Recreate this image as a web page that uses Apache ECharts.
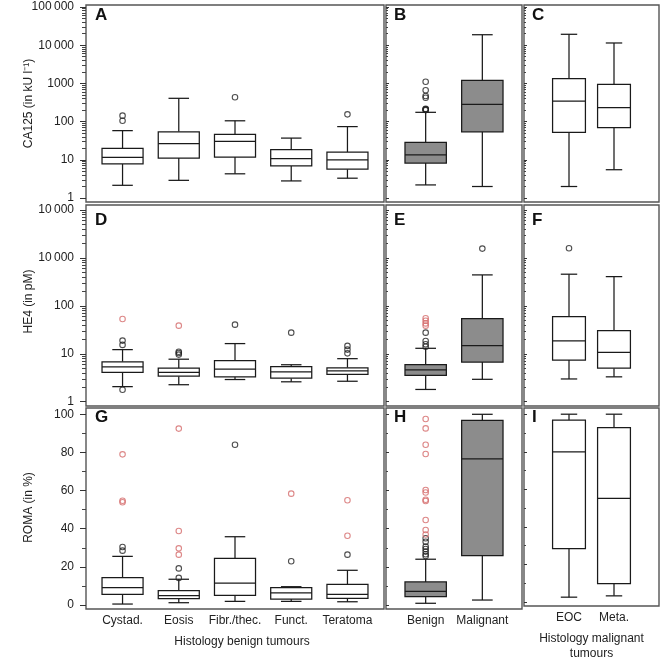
<!DOCTYPE html>
<html><head><meta charset="utf-8">
<script src="https://cdn.jsdelivr.net/npm/echarts@6/dist/echarts.min.js"></script>
<style>html,body{margin:0;padding:0;background:#fff}#c{width:661px;height:662px}</style>
</head><body><div id="c"></div>
<script>
// ---------- categories ----------
const benignCats = ['Cystad.', 'Eosis', 'Fibr./thec.', 'Funct.', 'Teratoma'];
const groupCats = ['Benign', 'Malignant'];
const malignantCats = ['EOC', 'Meta.'];
const panelLetters = ['A', 'B', 'C', 'D', 'E', 'F', 'G', 'H', 'I'];

// ---------- tick labels ----------
const ca125TickValues = [1, 10, 100, 1000, 10000, 100000];
const ca125TickLabels = ['1', '10', '100', '1000', '10\u2009000', '100\u2009000'];
const he4TickValues = [1, 10, 100, 1000, 10000];
const he4TickLabels = ['1', '10', '100', '10\u2009000', '10\u2009000'];
const romaTickValues = [0, 20, 40, 60, 80, 100];
const romaTickLabels = ['0', '20', '40', '60', '80', '100'];
const romaMinorValues = [10, 30, 50, 70, 90];

// ---------- box statistics: [lower whisker, Q1, median, Q3, upper whisker] ----------
const ca125Benign = [[2.15, 7.8, 11.6, 20, 58], [2.9, 11.1, 26.5, 54, 407], [4.3, 11.8, 30.5, 46, 105], [2.8, 6.9, 10.7, 18.4, 37], [3.3, 5.7, 10, 16, 74]];
const ca125BenignOut = [[143, 105], [], [433], [], [155]];
const ca125Group = [[2.2, 8.2, 13.4, 28.7, 175], [2.0, 54, 283, 1200, 18800]];
const ca125GroupOut = [[1108, 660, 470, 420, 215, 210, 205, 200], []];
const ca125Malig = [[2.0, 52.5, 346, 1327, 19300], [5.5, 69.5, 231, 947, 11430]];
const ca125MaligOut = [[], []];

const he4Benign = [[2.06, 4.1, 5.3, 6.8, 12.2], [2.26, 3.4, 4.1, 5.0, 7.7], [2.9, 3.3, 4.8, 7.2, 16.3], [2.6, 3.1, 4.2, 5.4, 5.9], [2.67, 3.7, 4.4, 5.1, 7.9]];
const he4BenignOut = [[18.8, 15.3, 1.78], [11, 10.4, 9.6], [40.5], [27.6], [14.6, 12.2, 10.2]];
const he4BenignRed = [[53], [38.6], [], [], []];
const he4Group = [[1.8, 3.56, 4.6, 5.9, 13], [2.93, 6.7, 14.8, 54, 442]];
const he4GroupOut = [[27.6, 18.5, 15.8, 14], [1563]];
const he4GroupRed = [[55, 49, 43, 38.6], []];
const he4Malig = [[2.98, 7.4, 18.5, 59.5, 457], [3.3, 5.0, 10.7, 30.3, 407]];
const he4MaligOut = [[1590], []];

const romaBenign = [[0.5, 5.6, 9.1, 14.3, 25.5], [1.2, 3.3, 4.9, 7.5, 13.5], [1.9, 5.1, 11.5, 24.5, 35.8], [1.9, 3.1, 6.3, 9.1, 9.6], [1.7, 3.5, 5.6, 10.8, 18.2]];
const romaBenignOut = [[30.4, 28.5], [19.2, 14.2], [84], [22.9], [26.4]];
const romaBenignRed = [[79, 54.7, 53.9], [92.5, 38.8, 29.7, 26.4], [], [58.4], [54.9, 36.3]];
const romaGroup = [[0.9, 4.4, 7.2, 12.1, 24], [2.6, 25.9, 76.6, 96.8, 100]];
const romaGroupOut = [[35, 33.2, 30.6, 29.4, 28, 26.6, 25.7], []];
const romaGroupRed = [[97.5, 92.6, 84, 79.2, 60.3, 59, 55.2, 54.5, 44.6, 39.3, 37], []];
const romaMalig = [[2.6, 28.5, 79.9, 96.8, 100], [3.3, 9.8, 55.2, 92.8, 100]];

// ---------- layout ----------
const FONT = "'Liberation Sans', Arial, Helvetica, sans-serif";
const TEXT = '#222';
const FRAME = '#555';
const OUT_BLACK = '#222';
const OUT_RED = '#d46a6a';

function logMinorTicks(maxV) {
  const out = [];
  for (let d = 1; d < maxV; d *= 10) for (let k = 2; k <= 9; k++) if (k * d <= maxV) out.push(k * d);
  return out;
}

const cols = [
  { left: 86, width: 298, min: 0.35, max: 5.65, cats: benignCats, fill: '#ffffff', outside: true, letterLeft: 95 },
  { left: 386, width: 136, min: 0.3, max: 2.7, cats: groupCats, fill: '#8c8c8c', outside: false, letterLeft: 394 },
  { left: 524, width: 135, min: 0, max: 3, cats: malignantCats, fill: '#ffffff', outside: false, letterLeft: 532 }
];
const rows = [
  { top: 5, height: 197, type: 'log', min: 0.786, max: 112800, ticks: ca125TickValues, labels: ca125TickLabels,
    minor: logMinorTicks(100000), name: 'CA125 (in kU l\u207B\u00B9)', namePad: 0, letterTop: 7,
    stats: [ca125Benign, ca125Group, ca125Malig], out: [ca125BenignOut, ca125GroupOut, ca125MaligOut], red: [null, null, null] },
  { top: 205, height: 201, type: 'log', min: 0.813, max: 12700, ticks: he4TickValues, labels: he4TickLabels,
    minor: logMinorTicks(10000), name: 'HE4 (in pM)', namePad: [0, 0, 0, 8], letterTop: 212,
    stats: [he4Benign, he4Group, he4Malig], out: [he4BenignOut, he4GroupOut, he4MaligOut], red: [he4BenignRed, he4GroupRed, null] },
  { top: 408, height: 201, type: 'value', min: -2.1, max: 103.3, ticks: romaTickValues, labels: romaTickLabels,
    minor: romaMinorValues, name: 'ROMA (in %)', namePad: [0, 0, 0, 2], letterTop: 409,
    stats: [romaBenign, romaGroup, romaMalig], out: [romaBenignOut, romaGroupOut, null], red: [romaBenignRed, romaGroupRed, null] }
];
const xNames = ['Histology benign tumours', '', 'Histology malignant\ntumours'];

function labelFor(row, v) {
  let best = 0, bd = Infinity;
  row.ticks.forEach((t, i) => {
    const d = row.type === 'log' ? Math.abs(Math.log10(v) - Math.log10(t)) : Math.abs(v - t);
    if (d < bd) { bd = d; best = i; }
  });
  return row.labels[best];
}

function boxRenderer(fill) {
  return function (params, api) {
    const x = api.value(0);
    const lo = api.coord([x, api.value(1)]);
    const q1 = api.coord([x, api.value(2)]);
    const md = api.coord([x, api.value(3)]);
    const q3 = api.coord([x, api.value(4)]);
    const hi = api.coord([x, api.value(5)]);
    const unit = api.coord([x + 1, api.value(3)])[0] - md[0];
    const hw = unit * 0.365;
    const cw = hw * 0.5;
    const cx = md[0];
    const ls = { stroke: '#1a1a1a', lineWidth: 1.25 };
    return {
      type: 'group',
      children: [
        { type: 'line', shape: { x1: cx, y1: q3[1], x2: cx, y2: hi[1] }, style: ls },
        { type: 'line', shape: { x1: cx, y1: q1[1], x2: cx, y2: lo[1] }, style: ls },
        { type: 'line', shape: { x1: cx - cw, y1: hi[1], x2: cx + cw, y2: hi[1] }, style: ls },
        { type: 'line', shape: { x1: cx - cw, y1: lo[1], x2: cx + cw, y2: lo[1] }, style: ls },
        { type: 'rect', shape: { x: cx - hw, y: q3[1], width: 2 * hw, height: q1[1] - q3[1] },
          style: { fill: fill, stroke: '#1a1a1a', lineWidth: 1.25 } },
        { type: 'line', shape: { x1: cx - hw, y1: md[1], x2: cx + hw, y2: md[1] }, style: ls }
      ]
    };
  };
}

const grid = [], xAxis = [], yAxis = [], series = [], title = [];
rows.forEach((row, r) => {
  cols.forEach((col, c) => {
    const g = r * 3 + c;
    grid.push({ left: col.left, top: row.top, width: col.width, height: row.height,
      show: true, borderColor: FRAME, borderWidth: 1.4, backgroundColor: '#fff', containLabel: false });
    const bottom = r === 2;
    xAxis.push({
      type: 'value', gridIndex: g, min: col.min, max: col.max,
      axisLine: { show: false, onZero: false }, splitLine: { show: false },
      axisTick: { show: false },
      axisLabel: bottom ? {
        show: true, customValues: col.cats.map((_, i) => i + 1), margin: 6,
        fontSize: 12, color: TEXT, fontFamily: FONT,
        formatter: (v) => col.cats[Math.round(v) - 1]
      } : { show: false },
      name: bottom ? xNames[c] : '', nameLocation: 'middle', nameGap: 25, nameMoveOverlap: false,
      nameTextStyle: { fontSize: 12, color: TEXT, fontFamily: FONT, lineHeight: 15,
        padding: c === 0 ? [0, 0, 0, 14] : 0 }
    });
    const baseY = {
      type: row.type, gridIndex: g, min: row.min, max: row.max, position: 'left',
      axisLine: { show: false, onZero: false }, splitLine: { show: false }
    };
    yAxis.push(Object.assign({}, baseY, {
      axisTick: { show: true, inside: !col.outside, length: col.outside ? 6 : 3, customValues: row.ticks,
        lineStyle: { color: '#333', width: 1 } },
      axisLabel: col.outside ? {
        show: true, customValues: row.ticks, margin: 12, fontSize: 12, color: TEXT, fontFamily: FONT,
        formatter: (v) => labelFor(row, v)
      } : { show: false },
      name: c === 0 ? row.name : '', nameLocation: 'middle', nameGap: 51, nameMoveOverlap: false,
      nameTextStyle: { fontSize: 12, color: TEXT, fontFamily: FONT, padding: row.namePad }
    }));
    yAxis.push(Object.assign({}, baseY, {
      axisTick: { show: true, inside: !col.outside, length: col.outside ? 4 : 2, customValues: row.minor,
        lineStyle: { color: '#444', width: 1 } },
      axisLabel: { show: false }
    }));
    const stats = row.stats[c];
    series.push({
      type: 'custom', xAxisIndex: g, yAxisIndex: 2 * g, clip: false,
      renderItem: boxRenderer(col.fill),
      encode: { x: 0, y: [1, 2, 3, 4, 5] },
      data: stats.map((s, i) => [i + 1].concat(s)), z: 2
    });
    const flat = (arr) => {
      const pts = [];
      if (arr) arr.forEach((vals, i) => vals.forEach(v => pts.push([i + 1, v])));
      return pts;
    };
    [[row.out[c], OUT_BLACK], [row.red[c], OUT_RED]].forEach(([arr, color]) => {
      const pts = flat(arr);
      if (!pts.length) return;
      series.push({
        type: 'scatter', xAxisIndex: g, yAxisIndex: 2 * g, symbol: 'circle', symbolSize: 5.5,
        itemStyle: { color: 'rgba(0,0,0,0)', borderColor: color, borderWidth: 1.1 },
        data: pts, z: 3, silent: true
      });
    });
    title.push({ text: panelLetters[g], left: col.letterLeft, top: row.letterTop, padding: 0,
      textStyle: { fontSize: 17, fontWeight: 'bold', color: '#111', fontFamily: FONT } });
  });
});

const chart = echarts.init(document.getElementById('c'));
chart.setOption({
  animation: false,
  backgroundColor: '#fff',
  textStyle: { fontFamily: FONT },
  title, grid, xAxis, yAxis, series
});
</script></body></html>
